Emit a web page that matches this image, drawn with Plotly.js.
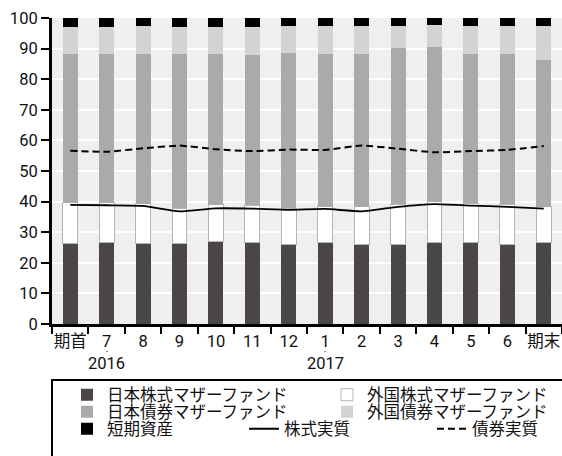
<!DOCTYPE html>
<html><head><meta charset="utf-8">
<script src="https://cdn.plot.ly/plotly-3.0.1.min.js"></script>
<style>html,body{margin:0;padding:0;background:#fff;}#chart{width:562px;height:456px;}</style>
</head><body><div id="chart"></div>
<script>
var categories = ['期首','7','8','9','10','11','12','1','2','3','4','5','6','期末'];
var jpStock = [26.4,26.7,26.4,26.4,27.0,26.6,26.1,26.5,26.1,26.1,26.7,26.7,26.1,26.5];
var fgStock = [13.2,12.9,12.9,11.5,12.0,12.2,11.8,11.8,12.2,13.1,13.2,12.7,13.1,11.8];
var jpBond  = [48.6,48.6,48.9,50.3,49.2,49.1,50.8,49.9,49.9,51.0,50.6,48.8,49.0,48.0];
var fgBond  = [9.0,9.0,9.1,9.0,9.0,9.3,8.7,9.2,9.2,7.2,7.3,9.2,9.2,11.1];
var shortTerm = [2.8,2.8,2.7,2.8,2.8,2.8,2.6,2.6,2.6,2.6,2.2,2.6,2.6,2.6];
var stockReal = [38.9,38.8,38.6,36.8,37.8,37.7,37.3,37.6,36.8,38.3,39.2,38.7,38.3,37.7];
var bondReal  = [56.6,56.3,57.4,58.3,57.1,56.5,57.0,56.9,58.3,57.3,56.1,56.5,56.9,58.2];
var yearLabels = [{cat:'7', text:'2016'}, {cat:'1', text:'2017'}];

var FONT = "Roboto, 'Noto Sans CJK JP', sans-serif";
var FS = 16.5;
var BW = 0.41;
function bar(name, vals, color, legend, lineColor) {
  return {type:'bar', name:name, x:categories, y:vals, width:BW,
    marker:{color:color, line:{color:lineColor||color, width:lineColor?1:0}},
    legend:legend, hoverinfo:'skip'};
}
var data = [
  bar('日本株式マザーファンド', jpStock, '#4b4747', 'legend'),
  bar('外国株式マザーファンド', fgStock, '#ffffff', 'legend2', '#b5b5b5'),
  bar('日本債券マザーファンド', jpBond, '#a9aaa9', 'legend3'),
  bar('外国債券マザーファンド', fgBond, '#d3d3d3', 'legend4'),
  bar('短期資産', shortTerm, '#000000', 'legend5'),
  {type:'scatter', mode:'lines', name:'株式実質', x:categories, y:stockReal,
   line:{color:'#000', width:1.8, shape:'spline', smoothing:0.5}, legend:'legend6'},
  {type:'scatter', mode:'lines', name:'債券実質', x:categories, y:bondReal,
   line:{color:'#000', width:2, dash:'7px,4px', shape:'spline', smoothing:0.5}, legend:'legend7'}
];

function pyPaper(px){ return (324 - px)/306; }
function pxPaper(px){ return (px - 52)/510; }
function leg(textX, y){
  return {orientation:'v', xanchor:'left', yanchor:'middle', x:pxPaper(textX - 41), y:pyPaper(y),
    font:{family:FONT, size:FS, color:'#111'}, bgcolor:'rgba(0,0,0,0)', borderwidth:0};
}

var annotations = yearLabels.map(function(d){
  return {xref:'x', yref:'paper', x:categories.indexOf(d.cat), y:pyPaper(363), text:d.text, showarrow:false,
    font:{family:FONT, size:FS, color:'#111'}, xanchor:'center', yanchor:'middle'};
}).concat(yearLabels.map(function(d){
  return {xref:'x', yref:'paper', x:categories.indexOf(d.cat), y:pyPaper(351.5), text:'•', showarrow:false,
    font:{family:FONT, size:6, color:'#111'}, xanchor:'center', yanchor:'middle'};
}));

var layout = {
  width:562, height:456,
  margin:{l:52, r:0, t:18, b:132},
  paper_bgcolor:'#ffffff', plot_bgcolor:'#efefef',
  barmode:'stack', bargap:0.59,
  font:{family:FONT, size:FS, color:'#111'},
  xaxis:{type:'category', showline:true, linecolor:'#000', linewidth:3,
    ticks:'outside', tickson:'boundaries', ticklen:7, tickwidth:2, tickcolor:'#000', tickangle:0,
    showgrid:false, tickfont:{family:FONT, size:FS, color:'#111'}, fixedrange:true},
  yaxis:{range:[0,100], dtick:10, showline:true, linecolor:'#000', linewidth:3,
    ticks:'outside', ticklen:8, tickwidth:2, tickcolor:'#000',
    showgrid:true, gridcolor:'#ffffff', gridwidth:2, zeroline:false,
    tickfont:{family:FONT, size:FS, color:'#111'}, fixedrange:true},
  legend: leg(108, 395),
  legend2: leg(368, 395),
  legend3: leg(108, 412),
  legend4: leg(368, 412),
  legend5: leg(108, 429),
  legend6: leg(285, 429),
  legend7: leg(473, 429),
  annotations: annotations,
  shapes:[{type:'rect', xref:'paper', yref:'paper', x0:0, x1:1.05, y0:pyPaper(380), y1:pyPaper(470),
    line:{color:'#000', width:2}, fillcolor:'rgba(0,0,0,0)', layer:'above'}],
  showlegend:true
};
Plotly.newPlot('chart', data, layout, {displayModeBar:false, staticPlot:true});
</script></body></html>
